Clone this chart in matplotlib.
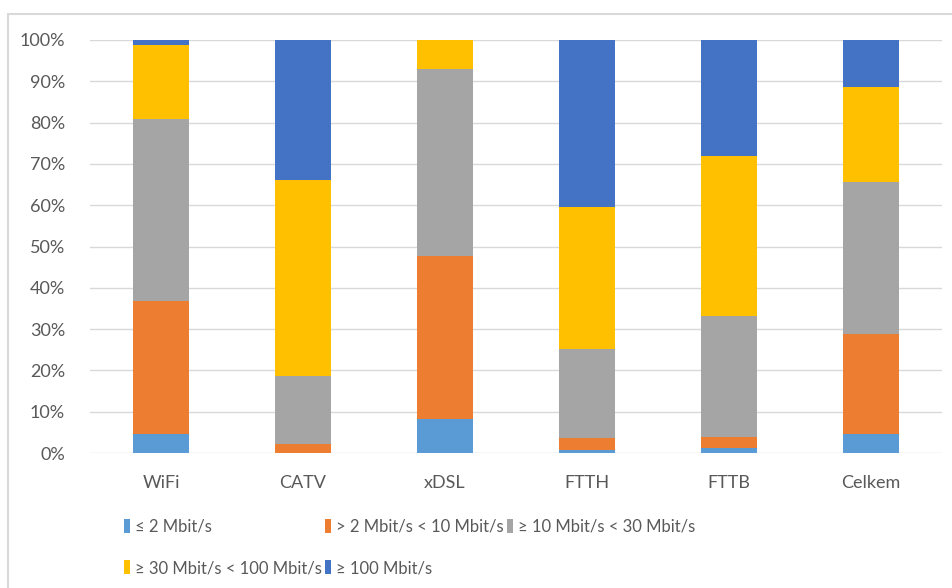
import matplotlib
matplotlib.use("Agg")
import matplotlib.pyplot as plt
import numpy as np
from matplotlib.patches import Rectangle

plt.rcParams['font.family'] = ['Lato', 'DejaVu Sans']

# --- data (shares in %) ---
categories = ["WiFi", "CATV", "xDSL", "FTTH", "FTTB", "Celkem"]
series_labels = ["≤ 2 Mbit/s", "> 2 Mbit/s < 10 Mbit/s", "≥ 10 Mbit/s < 30 Mbit/s",
                 "≥ 30 Mbit/s < 100 Mbit/s", "≥ 100 Mbit/s"]
upto_2 = [4.5, 0.1, 8.2, 0.7, 1.3, 4.5]
from_2_to_10 = [32.2, 2.2, 39.5, 3.0, 2.6, 24.3]
from_10_to_30 = [44.2, 16.3, 45.3, 21.5, 29.3, 36.8]
from_30_to_100 = [18.0, 47.6, 7.0, 34.4, 38.7, 22.9]
over_100 = [1.1, 33.8, 0.0, 40.4, 28.1, 11.5]
colors = ["#5B9BD5", "#ED7D31", "#A5A5A5", "#FFC000", "#4472C4"]

series = [upto_2, from_2_to_10, from_10_to_30, from_30_to_100, over_100]

fig = plt.figure(figsize=(9.53, 5.88), dpi=100)
# outer chart border
fig.patches.append(Rectangle((8 / 953, -0.1), 1.2, 1 - 14 / 588 + 0.1, transform=fig.transFigure,
                             fill=False, edgecolor="#d9d9d9", linewidth=1.5))
ax = fig.add_axes([90 / 953, 1 - 453 / 588, 852 / 953, 413 / 588])

x = np.arange(len(categories))
bottom = np.zeros(len(categories))
handles = []
for vals, col, lab in zip(series, colors, series_labels):
    vals = np.array(vals)
    b = ax.bar(x, vals, width=0.4, bottom=bottom, color=col, label=lab, zorder=3)
    handles.append(b)
    bottom += vals

ax.set_xlim(-0.5, 5.5)
ax.set_ylim(0, 100)
ax.set_yticks(np.arange(0, 101, 10))
ax.set_yticklabels([f"{v}%" for v in range(0, 101, 10)])
ax.set_xticks(x)
ax.set_xticklabels(categories)
ax.tick_params(axis='both', length=0, labelsize=13, colors="#595959")
ax.tick_params(axis='y', pad=18)
ax.tick_params(axis='x', pad=16)
ax.grid(axis='y', color="#d9d9d9", linewidth=1, zorder=0)
for s in ax.spines.values():
    s.set_visible(False)

# legend: row-major order like the original
order = [0, 3, 1, 4, 2]
leg = fig.legend([handles[i] for i in order], [series_labels[i] for i in order],
                 ncol=3, loc='upper left', bbox_to_anchor=(124 / 953, 1 - 519 / 588),
                 frameon=False, labelcolor="#595959", fontsize=12,
                 handlelength=0.35, handleheight=0.9, handletextpad=0.3,
                 columnspacing=0.2, labelspacing=1.5, borderpad=0, borderaxespad=0)

fig.savefig("out.png", dpi=100)
